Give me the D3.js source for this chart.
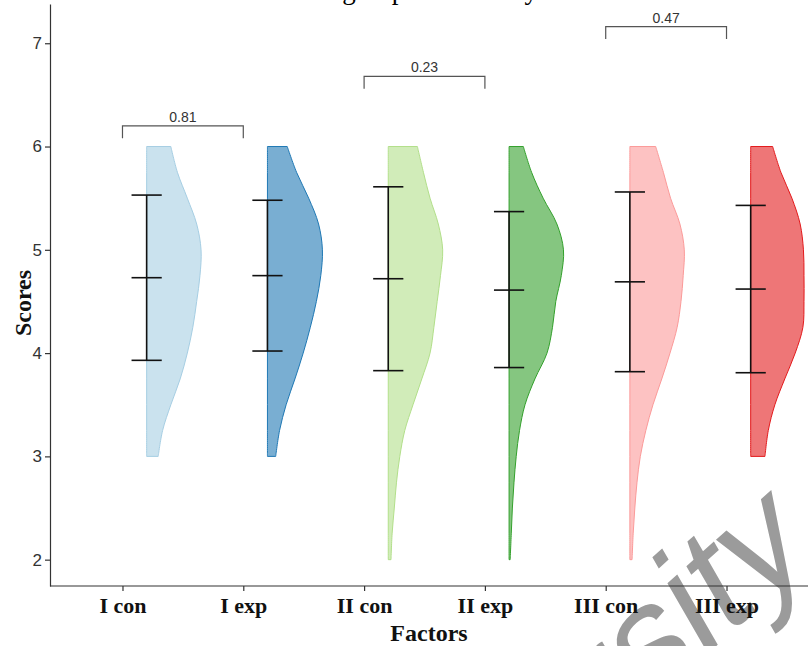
<!DOCTYPE html>
<html>
<head>
<meta charset="utf-8">
<script src="https://cdn.jsdelivr.net/npm/d3@7"></script>
<style>
  body { margin: 0; background: #fff; }
  svg { display: block; }
</style>
</head>
<body>
<div class="canvas"></div>
<script>
// groups on the x axis
const tickLabels = ["I con", "I exp", "II con", "II exp", "III con", "III exp"];
const colors = ["#A6CEE3", "#1F78B4", "#B2DF8A", "#33A02C", "#FB9A99", "#E31A1C"];

// mean +/- sd
const means = [4.73, 4.75, 4.72, 4.61, 4.69, 4.62];
const uppers = [5.53, 5.48, 5.61, 5.37, 5.56, 5.43];
const lowers = [3.93, 4.02, 3.83, 3.86, 3.82, 3.81];

// relative density of each half violin, sampled on scoreGrid (top down)
const scoreGrid = [6, 5.75, 5.5, 5.25, 5, 4.75, 4.5, 4.25, 4, 3.75, 3.5, 3.25, 3, 2.75, 2.5, 2.25, 2];
const densIcon = [0.44, 0.56, 0.74, 0.91, 0.99, 0.97, 0.91, 0.84, 0.74, 0.61, 0.44, 0.29, 0.21];
const densIexp = [0.36, 0.53, 0.75, 0.93, 1.0, 0.97, 0.89, 0.78, 0.65, 0.5, 0.34, 0.22, 0.15];
const densIIcon = [0.53, 0.64, 0.76, 0.91, 0.99, 0.95, 0.89, 0.83, 0.76, 0.61, 0.45, 0.3, 0.21, 0.15, 0.11, 0.07, 0.05];
const densIIexp = [0.26, 0.41, 0.62, 0.87, 0.99, 0.95, 0.85, 0.79, 0.69, 0.47, 0.29, 0.19, 0.13, 0.09, 0.06, 0.04, 0.02];
const densIIIcon = [0.47, 0.61, 0.74, 0.91, 0.99, 0.97, 0.93, 0.86, 0.73, 0.58, 0.42, 0.29, 0.19, 0.13, 0.09, 0.06, 0.04];
const densIIIexp = [0.4, 0.55, 0.75, 0.9, 0.96, 0.97, 0.97, 0.95, 0.81, 0.62, 0.44, 0.32, 0.26];
const densities = [densIcon, densIexp, densIIcon, densIIexp, densIIIcon, densIIIexp];

// pairwise comparisons
const pairFrom = ["I con", "II con", "III con"];
const pairTo = ["I exp", "II exp", "III exp"];
const pValues = ["0.81", "0.23", "0.47"];
const bracketLevels = [6.2, 6.68, 7.16];

const yTicks = [2, 3, 4, 5, 6, 7];

const dims = { width: 808, height: 646 };
const margin = { left: 50, top: 4, bottom: 586 };

const svg = d3
    .select(".canvas")
    .append("svg")
    .attr("width", dims.width)
    .attr("height", dims.height);

// watermark sits under everything
svg.append("text")
    .attr("transform", "translate(812,560) rotate(-42) skewX(-12)")
    .attr("text-anchor", "end")
    .attr("font-family", "Liberation Sans, Arial, sans-serif")
    .attr("font-size", 150)
    .attr("fill", "#9b9b9b")
    .text("University");

const x = d3.scalePoint().domain(tickLabels).range([margin.left, 799]).padding(0.6);
const y = d3.scaleLinear().domain([1.745, 7.38]).range([margin.bottom, margin.top]);
const w = d3.scaleLinear().domain([0, 1]).range([0, x.step() * 0.455]);
const nudge = x.step() * 0.2;
const capHalf = x.step() * 0.125;

// title, mostly cropped above the picture
svg.append("text")
    .attr("x", 358)
    .attr("y", -1.5)
    .attr("text-anchor", "middle")
    .attr("font-family", "Liberation Serif, Times New Roman, serif")
    .attr("font-size", 27)
    .attr("fill", "#000")
    .text("Scores of each group in the study");

// half violins
const area = d3
    .area()
    .curve(d3.curveCatmullRom)
    .y((d) => y(d.s))
    .x0((d) => d.cx)
    .x1((d) => d.cx + w(d.d));

tickLabels.forEach((name, i) => {
    const cx = x(name) + nudge;
    const pts = densities[i].map((d, j) => ({ s: scoreGrid[j], d: d, cx: cx }));
    svg.append("path")
        .attr("d", area(pts))
        .attr("fill", colors[i])
        .attr("fill-opacity", 0.6)
        .attr("stroke", colors[i])
        .attr("stroke-width", 1);
});

// error bars
const bars = svg.append("g").attr("stroke", "#111").attr("stroke-width", 1.6);
tickLabels.forEach((name, i) => {
    const cx = x(name) + nudge;
    bars.append("line")
        .attr("x1", cx).attr("x2", cx)
        .attr("y1", y(lowers[i])).attr("y2", y(uppers[i]));
    [lowers[i], means[i], uppers[i]].forEach((v) => {
        bars.append("line")
            .attr("x1", cx - capHalf).attr("x2", cx + capHalf)
            .attr("y1", y(v)).attr("y2", y(v));
    });
});

// brackets with p values
const brackets = svg.append("g");
pValues.forEach((p, i) => {
    const x1 = x(pairFrom[i]);
    const x2 = x(pairTo[i]);
    const yy = y(bracketLevels[i]);
    const tip = y(bracketLevels[i] - 0.12);
    brackets.append("path")
        .attr("d", `M${x1},${tip}V${yy}H${x2}V${tip}`)
        .attr("fill", "none")
        .attr("stroke", "#555")
        .attr("stroke-width", 1.2);
    brackets.append("text")
        .attr("x", (x1 + x2) / 2)
        .attr("y", yy - 4)
        .attr("text-anchor", "middle")
        .attr("font-family", "Liberation Sans, Arial, sans-serif")
        .attr("font-size", 14)
        .attr("fill", "#333")
        .text(p);
});

// y axis
const yAxis = svg
    .append("g")
    .attr("transform", `translate(${margin.left},0)`)
    .call(d3.axisLeft(y).tickValues(yTicks).tickFormat(d3.format("d")).tickSize(5).tickSizeOuter(0).tickPadding(3));
yAxis.selectAll("path, line").attr("stroke", "#333").attr("stroke-width", 1.2);
yAxis.selectAll("text")
    .attr("font-family", "Liberation Sans, Arial, sans-serif")
    .attr("font-size", 17)
    .attr("fill", "#333");

// x axis
const xAxis = svg
    .append("g")
    .attr("transform", `translate(0,${margin.bottom})`)
    .call(d3.axisBottom(x).tickSize(5).tickSizeOuter(0));
xAxis.select(".domain").attr("d", `M${margin.left},0H${dims.width}`);
xAxis.selectAll("path, line").attr("stroke", "#333").attr("stroke-width", 1.2);
xAxis.selectAll(".tick text")
    .attr("y", 27)
    .attr("dy", 0)
    .attr("font-family", "Liberation Serif, Times New Roman, serif")
    .attr("font-weight", "bold")
    .attr("font-size", 22)
    .attr("fill", "#111")
    .each(function (d) {
        const parts = d.split(" ");
        const t = d3.select(this).text(null);
        t.append("tspan").text(parts[0]);
        t.append("tspan").text(" " + parts[1]);
    });

// axis titles
svg.append("text")
    .attr("x", (margin.left + dims.width) / 2)
    .attr("y", 641)
    .attr("text-anchor", "middle")
    .attr("font-family", "Liberation Serif, Times New Roman, serif")
    .attr("font-weight", "bold")
    .attr("font-size", 24)
    .attr("fill", "#111")
    .text("Factors");

svg.append("text")
    .attr("transform", "translate(31,303) rotate(-90)")
    .attr("text-anchor", "middle")
    .attr("font-family", "Liberation Serif, Times New Roman, serif")
    .attr("font-weight", "bold")
    .attr("font-size", 24)
    .attr("fill", "#111")
    .text("Scores");
</script>
</body>
</html>
